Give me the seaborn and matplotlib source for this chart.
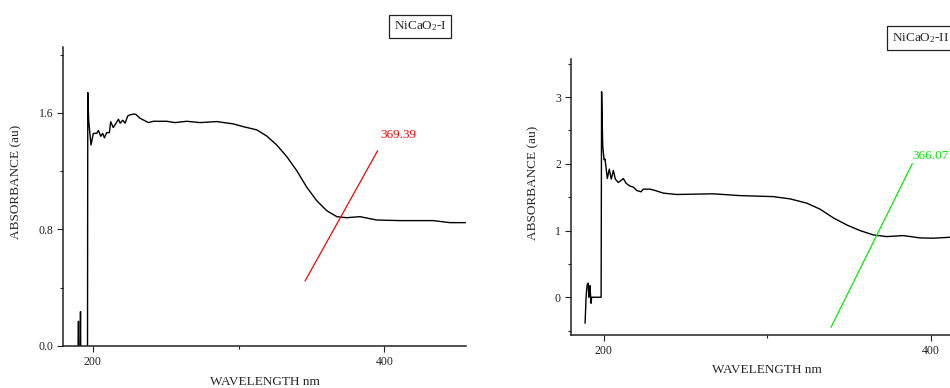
import matplotlib
matplotlib.use("Agg")
import matplotlib.pyplot as plt
import seaborn as sns
import pandas as pd
from matplotlib.ticker import MultipleLocator, FormatStrFormatter

# ---------------- data ----------------
wl_I = [189.9, 190.2, 190.4, 191.3, 191.6, 191.8, 196.4, 196.6, 197.2, 198.8, 200.4, 202.7,
        203.9, 205.5, 206.8, 208.0, 209.6, 211.4, 212.3, 214.1, 216.0, 217.6, 218.8,
        220.6, 222.2, 224.0, 225.6, 228.3, 229.6, 232.4, 238.2, 241.6, 250.7, 256.4,
        264.5, 273.6, 285.0, 296.4, 303.3, 312.5, 319.3, 326.2, 333.1,
        339.9, 346.8, 353.6, 360.5, 367.4, 374.2, 383.3, 394.8, 410.8,
        433.6, 445.0, 456.0]
abs_I = [-0.1, 0.17, -0.1, -0.1, 0.236, -0.1, -0.1, 1.74, 1.55, 1.38, 1.46, 1.46,
         1.48, 1.44, 1.46, 1.43, 1.465, 1.465, 1.54, 1.50, 1.53, 1.557, 1.53,
         1.55, 1.53, 1.58, 1.587, 1.593, 1.59, 1.564, 1.534, 1.543, 1.543, 1.534,
         1.543, 1.534, 1.541, 1.525, 1.506, 1.484, 1.442, 1.38, 1.30,
         1.204, 1.09, 0.998, 0.929, 0.888, 0.881, 0.888, 0.865, 0.861,
         0.861, 0.847, 0.847]

wl_II = [188.6, 189.2, 189.6, 190.0, 190.5, 190.9, 191.3, 191.6, 192.2, 192.6, 198.4,
         198.7, 199.4, 200.2, 200.8, 202.2, 203.4, 204.6, 205.9, 207.1, 208.9, 210.6,
         212.0, 213.6, 215.7, 218.1, 220.2, 222.8, 224.2, 228.3, 231.4, 236.5, 244.6,
         267.0, 283.4, 303.7, 314.0, 324.2, 332.3, 340.4, 348.6, 356.8, 364.9, 373.1,
         383.2, 393.5, 401.6, 411.8, 420.0]
abs_II = [-0.39, 0.0, 0.125, 0.20, 0.21, 0.0, 0.15, 0.175, -0.09, 0.0, 0.0,
          3.08, 2.26, 2.06, 2.07, 1.78, 1.92, 1.77, 1.90, 1.77, 1.72, 1.75,
          1.78, 1.71, 1.67, 1.65, 1.60, 1.58, 1.62, 1.62, 1.60, 1.56, 1.54,
          1.55, 1.523, 1.508, 1.474, 1.41, 1.32, 1.19, 1.084, 0.999, 0.934, 0.909,
          0.924, 0.889, 0.885, 0.899, 0.899]

tan_I_x = [345.6, 395.4]
tan_I_y = [0.446, 1.341]
tan_II_x = [339.0, 388.7]
tan_II_y = [-0.45, 2.0]

edge_I = "369.39"
edge_II = "366.07"
title_I = "NiCaO$_2$-I"
title_II = "NiCaO$_2$-II"
xlabel = "WAVELENGTH nm"
ylabel = "ABSORBANCE (au)"

# ---------------- style ----------------
sns.set_style("ticks")
plt.rcParams["font.family"] = ["Liberation Serif", "DejaVu Serif"]
plt.rcParams["mathtext.fontset"] = "custom"
plt.rcParams["mathtext.rm"] = "Liberation Serif"
plt.rcParams["mathtext.it"] = "Liberation Serif:italic"

W, H = 950, 388
fig = plt.figure(figsize=(W / 100, H / 100), dpi=100)
fig.patch.set_facecolor("white")


def px_axes(x0, y0, x1, y1):
    return fig.add_axes([x0 / W, 1 - y1 / H, (x1 - x0) / W, (y1 - y0) / H])


ax1 = px_axes(63, 47, 466, 346)
ax2 = px_axes(570.7, 59, 1022.3, 335.3)

dfI = pd.DataFrame({"wl": wl_I, "abs": abs_I})
dfII = pd.DataFrame({"wl": wl_II, "abs": abs_II})

sns.lineplot(data=dfI, x="wl", y="abs", estimator=None, sort=False, ax=ax1,
             color="black", lw=1.0)
sns.lineplot(x=tan_I_x, y=tan_I_y, estimator=None, sort=False, ax=ax1,
             color="#ff0000", lw=0.9)
sns.lineplot(data=dfII, x="wl", y="abs", estimator=None, sort=False, ax=ax2,
             color="black", lw=1.0)
sns.lineplot(x=tan_II_x, y=tan_II_y, estimator=None, sort=False, ax=ax2,
             color="#00ee00", lw=0.9)

ax1.set_xlim(179.6, 456)
ax1.set_ylim(0, 2.053)
ax2.set_xlim(179.8, 456)
ax2.set_ylim(-0.57, 3.57)

ax1.yaxis.set_major_locator(MultipleLocator(0.8))
ax1.yaxis.set_minor_locator(MultipleLocator(0.4))
ax1.yaxis.set_major_formatter(FormatStrFormatter("%.1f"))
ax2.yaxis.set_major_locator(MultipleLocator(1))
ax2.yaxis.set_minor_locator(MultipleLocator(0.5))
ax2.yaxis.set_major_formatter(FormatStrFormatter("%d"))
for ax in (ax1, ax2):
    ax.xaxis.set_major_locator(MultipleLocator(200))
    ax.xaxis.set_minor_locator(MultipleLocator(100))
    ax.set_xlabel("")
    ax.set_ylabel("")
    ax.set_facecolor("white")
    for s in ("top", "right"):
        ax.spines[s].set_visible(False)
    for s in ("left", "bottom"):
        ax.spines[s].set_linewidth(1.1)
        ax.spines[s].set_color("#222222")
    ax.tick_params(which="major", direction="out", length=4, width=0.8,
                   labelsize=8.5, colors="#222222", pad=3)
    ax.tick_params(which="minor", direction="out", length=2, width=0.8,
                   colors="#222222")

ax1.text(397.1, 1.447, edge_I, color="#ff0000", fontsize=9.5, va="center", ha="left")
ax2.text(388.5, 2.12, edge_II, color="#00ee00", fontsize=9.5, va="center", ha="left")

# axis labels
fig.text(16 / W, 1 - 182 / H, ylabel, rotation=90, ha="center", va="center", fontsize=9.5)
fig.text(264.7 / W, 1 - 381.7 / H, xlabel, ha="center", va="center", fontsize=9.5)
fig.text(533.3 / W, 1 - 183.3 / H, ylabel, rotation=90, ha="center", va="center", fontsize=9.5)
fig.text(766.7 / W, 1 - 370 / H, xlabel, ha="center", va="center", fontsize=9.5)

# sample boxes
box = dict(boxstyle="square,pad=0.35", fc="white", ec="#222222", lw=0.9)
fig.text(420 / W, 1 - 26.3 / H, title_I, ha="center", va="center", fontsize=9.5, bbox=box)
fig.text(891.5 / W, 1 - 38 / H, title_II, ha="left", va="center", fontsize=9.5, bbox=box)

fig.savefig("out.png", dpi=100, facecolor="white")
